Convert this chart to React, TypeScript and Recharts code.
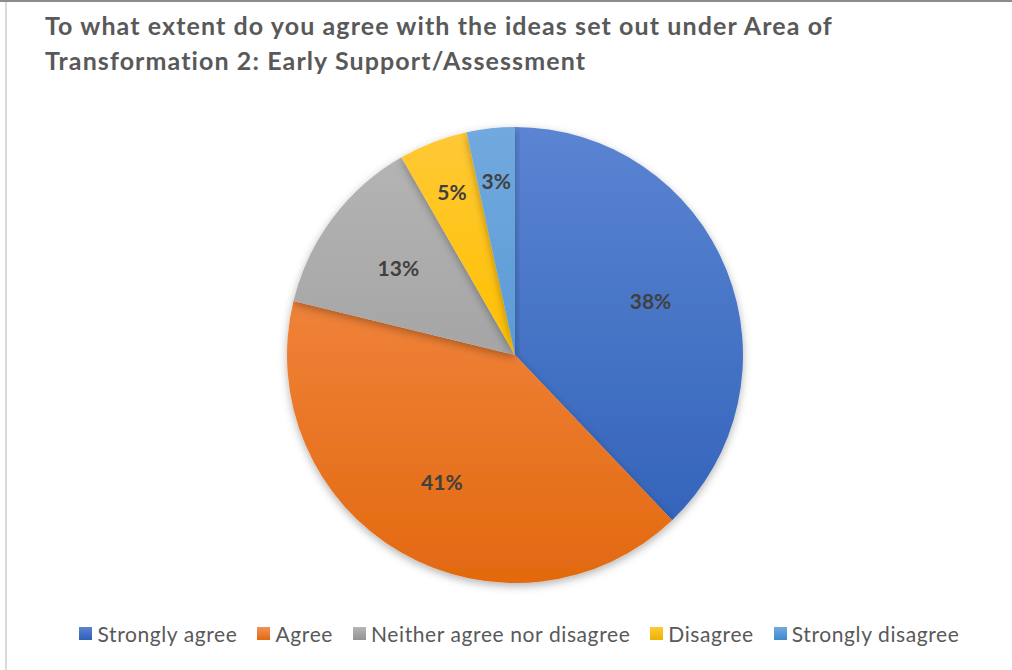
import React from 'react'
import { PieChart, Pie, Cell, Legend } from 'recharts'

const categories = ['Strongly agree', 'Agree', 'Neither agree nor disagree', 'Disagree', 'Strongly disagree']
const shares = [37.9, 40.9, 12.9, 4.9, 3.4]

const baseColors = ['#4472C4', '#ED7D31', '#A5A5A5', '#FFC000', '#5B9BD5']
const topColors = ['#5b84d2', '#f3925a', '#b6b6b6', '#ffc937', '#72a9df']
const bottomColors = ['#2f5fb8', '#e2690f', '#939393', '#eeb200', '#3f89ce']

const data = categories.map((name, i) => ({ name, value: shares[i] }))

const W = 1012
const H = 670
const CX = 515
const CY = 355
const R = 228
const FONT = 'Lato, "Open Sans", sans-serif'

const RAD = Math.PI / 180

function renderLabel(props: any) {
  const { cx, cy, midAngle, outerRadius, percent } = props
  const r = outerRadius * (percent < 0.1 ? 0.77 : 0.64)
  const x = cx + r * Math.cos(-midAngle * RAD)
  const y = cy + r * Math.sin(-midAngle * RAD)
  return (
    <text x={x} y={y} textAnchor="middle" dominantBaseline="central" fill="#404040"
      fontFamily={FONT} fontWeight={700} fontSize={21}>
      {`${Math.round(percent * 100)}%`}
    </text>
  )
}

function renderLegend() {
  return (
    <div style={{ display: 'flex', justifyContent: 'center', fontFamily: FONT, fontSize: 21,
      letterSpacing: 0.6, color: '#595959', paddingLeft: 27 }}>
      {categories.map((c, i) => (
        <div key={c} style={{ display: 'flex', alignItems: 'center', marginRight: i < categories.length - 1 ? 20 : 0 }}>
          <svg width={13} height={13} style={{ marginRight: 5 }}>
            <rect width={13} height={13} fill={`url(#lg${i})`} />
          </svg>
          <span>{c}</span>
        </div>
      ))}
    </div>
  )
}

export default function App() {
  return (
    <div style={{ position: 'absolute', left: 0, top: 0, width: W, height: H, background: '#fff', overflow: 'hidden' }}>
      <div style={{ position: 'absolute', left: 0, top: 0, width: W, height: 2, background: '#8c8c8c' }} />
      <div style={{ position: 'absolute', left: 5, top: 2, width: 2, height: H, background: '#d9d9d9' }} />
      <div style={{ position: 'absolute', left: 45, top: 8, fontFamily: FONT, fontWeight: 700, fontSize: 25,
        letterSpacing: 1.1, lineHeight: '35px', color: '#595959', width: 960, whiteSpace: 'nowrap' }}>
        To what extent do you agree with the ideas set out under Area of<br />
        Transformation 2: Early Support/Assessment
      </div>
      <svg width={0} height={0} style={{ position: 'absolute' }}>
        <defs>
          {baseColors.map((c, i) => (
            <linearGradient key={c} id={`lg${i}`} x1="0" y1="0" x2="0" y2="1">
              <stop offset="0%" stopColor={topColors[i]} />
              <stop offset="100%" stopColor={bottomColors[i]} />
            </linearGradient>
          ))}
        </defs>
      </svg>
      <PieChart width={W} height={H} margin={{ top: 0, right: 0, bottom: 0, left: 0 }}
        style={{ position: 'absolute', left: 0, top: 0 }}>
        <defs>
          {baseColors.map((c, i) => (
            <linearGradient key={c} id={`pg${i}`} gradientUnits="userSpaceOnUse" x1={0} y1={CY - R} x2={0} y2={CY + R}>
              <stop offset="0%" stopColor={topColors[i]} />
              <stop offset="50%" stopColor={c} />
              <stop offset="100%" stopColor={bottomColors[i]} />
            </linearGradient>
          ))}
          <filter id="shadow" x="-10%" y="-10%" width="120%" height="125%">
            <feDropShadow dx="0" dy="3" stdDeviation="4" floodColor="#000" floodOpacity="0.3" />
          </filter>
        </defs>
        <Pie data={data} dataKey="value" nameKey="name" cx={CX} cy={CY} outerRadius={R}
          startAngle={90} endAngle={-270} stroke="none" label={renderLabel} labelLine={false}
          isAnimationActive={false} style={{ filter: 'url(#shadow)' }}>
          {data.map((d, i) => (
            <Cell key={d.name} fill={`url(#pg${i})`} />
          ))}
        </Pie>
        <Legend content={renderLegend} verticalAlign="bottom" wrapperStyle={{ bottom: 24, left: 0, width: W }} />
      </PieChart>
    </div>
  )
}
